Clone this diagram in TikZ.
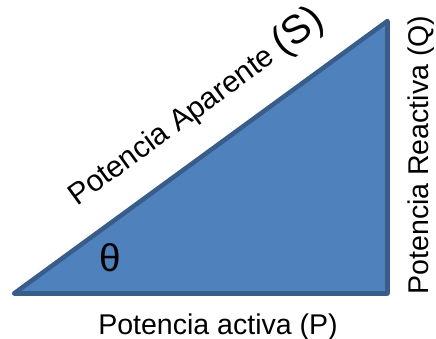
\documentclass[tikz,border=0pt]{standalone}
\usepackage{fontspec}
\setmainfont{Liberation Sans}
\usepackage{xcolor}
\usepackage{tikz}
\usetikzlibrary{calc}
\definecolor{fillblue}{HTML}{4F81BD}
\definecolor{edgeblue}{HTML}{385D8A}
\definecolor{text}{HTML}{000000}
\tikzset{
  tri/.style={draw=edgeblue, fill=fillblue, line width=3.4pt, line join=round},
  lab/.style={text=text, font=\fontsize{21.4}{24}\selectfont, inner sep=0pt},
  labbig/.style={text=text, font=\fontsize{29}{32}\selectfont, inner sep=0pt}
}
\begin{document}
\begin{tikzpicture}[x=0.75pt,y=-0.75pt]
  \useasboundingbox (0,0) rectangle (436,339);
  \coordinate (A) at (14,293.5);
  \coordinate (B) at (387.5,293.5);
  \coordinate (C) at (387.5,21);
  \draw[tri] (A) -- (B) -- (C) -- cycle;
  \node[labbig] (theta) at (110,258) {θ};
  \node[lab, anchor=base] (P) at (218,334) {Potencia activa (P)};
  \node[lab, anchor=base, rotate=90] (Q) at (428,155) {Potencia Reactiva (Q)};
  \node[lab, font=\fontsize{22.5}{25}\selectfont, anchor=base west, rotate=36.11] (S) at (76.8,206.7)
    {Potencia Aparente {\fontsize{30}{33}\selectfont(S)}};
\end{tikzpicture}
\end{document}
